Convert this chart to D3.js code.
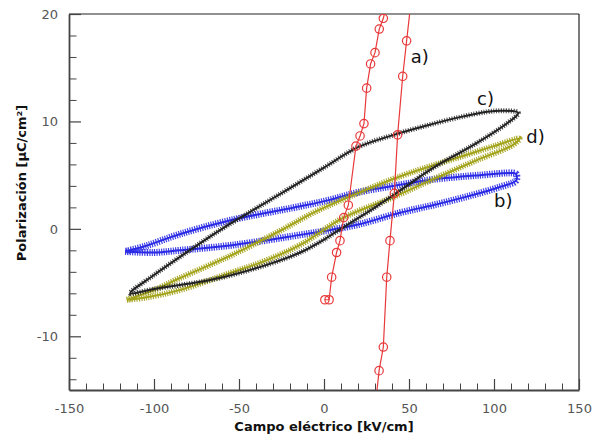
<!DOCTYPE html>
<html>
<head>
  <script src="https://d3js.org/d3.v7.min.js"></script>
  <style>
    body { margin: 0; background: #fff; }
    .tick text { font-family: "DejaVu Sans", sans-serif; font-size: 13px; fill: #555; }
    .axis path, .axis line { stroke: #444; }
    .lbl { font-family: "DejaVu Sans", sans-serif; font-size: 18px; fill: #111; }
    .title { font-family: "DejaVu Sans", sans-serif; font-size: 13px; font-weight: bold; fill: #111; }
  </style>
</head>
<body>
<script>
// curve a) red circles: E [kV/cm], P [uC/cm2]
var aE = [0.5, 3, 4.5, 7.4, 9.4, 11.6, 14.3, 18.8, 21.2, 23.5, 25.1, 27.4, 30, 32.5, 34.9, 40, 46, 52.5,
          48.6, 46.3, 43.3, 41.4, 38.8, 36.9, 34.9, 32.4, 30.5];
var aP = [-6.6, -6.6, -4.5, -2.2, -1.1, 1.05, 2.2, 7.7, 8.65, 9.8, 13.1, 15.35, 16.4, 18.6, 19.6, 23, 26, 23,
          17.5, 14.2, 8.75, 3.3, -1.1, -4.5, -11.0, -13.2, -16];

// curve b) blue triangles
var bE = [-117, -100, -85, -53, -14, 0, 20, 44.7, 64, 84, 103.5, 113,
          113, 111, 91.8, 64, 44.7, 20, 3.5, -14, -55, -85, -105, -117];
var bP = [-2.1, -2.2, -2.0, -1.5, -0.56, -0.2, 0.4, 1.5, 2.2, 3.0, 3.9, 4.5,
          5.1, 5.2, 5.0, 4.6, 4.1, 3.4, 2.7, 2.1, 0.8, -0.5, -1.6, -2.1];

// curve c) black crosses
var cE = [1, 15, 31, 45, 64, 80, 90, 107.5, 114.3,
          105, 96, 80, 60, 40, 20, 0, -20, -40, -60, -80, -100, -114,
          -100, -65, -33.7, -14, 1];
var cP = [-0.9, 0.5, 2.1, 3.6, 5.65, 7.1, 8.0, 9.8, 10.8,
          11.0, 10.9, 10.4, 9.6, 8.7, 7.6, 5.7, 3.8, 1.9, 0.0, -2.1, -4.3, -6.0,
          -5.6, -4.7, -3.35, -2.2, -0.9];

// curve d) olive triangles
var dE = [-116, -100, -85, -55, -26, -5, 15, 45, 64, 84, 100, 115,
          111, 90, 64, 40, 11, -14, -35, -55, -85, -105, -116];
var dP = [-6.6, -5.7, -4.6, -2.5, -0.2, 1.6, 3.0, 4.9, 5.9, 6.9, 7.7, 8.4,
          7.8, 6.4, 4.6, 2.9, 1.0, -1.5, -3.0, -4.1, -5.7, -6.4, -6.6];

var xMajor = [-150, -100, -50, 0, 50, 100, 150];
var yMajor = [-10, 0, 10, 20];

var labels = [
  {t: "a)", E: 51, P: 15.4},
  {t: "c)", E: 90, P: 11.5},
  {t: "d)", E: 119, P: 8.0},
  {t: "b)", E: 100, P: 2.0}
];

var W = 599, H = 435;
var L = 69, R = 579, T = 14, B = 390;

var svg = d3.select("body").append("svg").attr("width", W).attr("height", H);

var x = d3.scaleLinear().domain([-150, 150]).range([L, R]);
var y = d3.scaleLinear().domain([-15, 20]).range([B, T]);

svg.append("clipPath").attr("id", "clip")
  .append("rect").attr("x", L).attr("y", T).attr("width", R - L).attr("height", B - T);

// top / right frame
svg.append("line").attr("x1", L).attr("x2", R).attr("y1", T).attr("y2", T).attr("stroke", "#222").attr("stroke-width", 1.2);
svg.append("line").attr("x1", R).attr("x2", R).attr("y1", T).attr("y2", B).attr("stroke", "#222").attr("stroke-width", 1.2);

// minor ticks
var xMinor = d3.range(-140, 150, 10).filter(v => v % 50 !== 0);
var yMinor = d3.range(-14, 20, 2).filter(v => v % 10 !== 0);

svg.append("g").attr("class", "axis").attr("transform", "translate(0," + B + ")")
  .call(d3.axisBottom(x).tickValues(xMinor).tickSize(-6.5).tickSizeOuter(0).tickFormat(""))
  .call(g => g.select(".domain").remove());
svg.append("g").attr("class", "axis").attr("transform", "translate(" + L + ",0)")
  .call(d3.axisLeft(y).tickValues(yMinor).tickSize(-7.5).tickSizeOuter(0).tickFormat(""))
  .call(g => g.select(".domain").remove());

var fmt = d => String(d);
svg.append("g").attr("class", "axis").attr("transform", "translate(0," + B + ")")
  .call(d3.axisBottom(x).tickValues(xMajor).tickSize(-11).tickSizeOuter(0).tickPadding(14).tickFormat(fmt))
  .call(g => g.select(".domain").attr("stroke-width", 1.8))
  .call(g => g.selectAll(".tick line").attr("stroke-width", 1.2));
svg.append("g").attr("class", "axis").attr("transform", "translate(" + L + ",0)")
  .call(d3.axisLeft(y).tickValues(yMajor).tickSize(-12).tickSizeOuter(0).tickPadding(11).tickFormat(fmt))
  .call(g => g.select(".domain").attr("stroke-width", 1.8))
  .call(g => g.selectAll(".tick line").attr("stroke-width", 1.2));

var plot = svg.append("g").attr("clip-path", "url(#clip)");
var line = d3.line().x(d => x(d[0])).y(d => y(d[1])).curve(d3.curveCatmullRom.alpha(0.5));
var lineStraight = d3.line().x(d => x(d[0])).y(d => y(d[1]));

function band(E, P, color, width, dash, op) {
  var pts = E.map((e, i) => [e, P[i]]);
  plot.append("path").attr("d", line(pts)).attr("fill", "none")
    .attr("stroke", color).attr("stroke-width", width)
    .attr("stroke-dasharray", dash).attr("opacity", op);
  plot.append("path").attr("d", line(pts)).attr("fill", "none")
    .attr("stroke", color).attr("stroke-width", 2);
}

band(bE, bP, "#2a2ae6", 7, "1.2 1.2", 0.9);
band(dE, dP, "#a3a31c", 6, "1.2 1.2", 0.9);
band(cE, cP, "#222", 5, "1 1.5", 0.85);

// curve a)
var aPts = aE.map((e, i) => [e, aP[i]]);
plot.append("path").attr("d", lineStraight(aPts)).attr("fill", "none")
  .attr("stroke", "#e8393a").attr("stroke-width", 1.2);
plot.selectAll("circle.a").data(aPts).enter().append("circle")
  .attr("cx", d => x(d[0])).attr("cy", d => y(d[1])).attr("r", 4.2)
  .attr("fill", "none").attr("stroke", "#e8393a").attr("stroke-width", 1.2);

svg.selectAll("text.lbl").data(labels).enter().append("text")
  .attr("class", "lbl").attr("x", d => x(d.E)).attr("y", d => y(d.P))
  .text(d => d.t);

svg.append("text").attr("class", "title").attr("x", 324).attr("y", 431)
  .attr("text-anchor", "middle").text("Campo eléctrico [kV/cm]");
svg.append("text").attr("class", "title").attr("transform", "translate(26,183) rotate(-90)")
  .attr("text-anchor", "middle").text("Polarización [μC/cm²]");
</script>
</body>
</html>
